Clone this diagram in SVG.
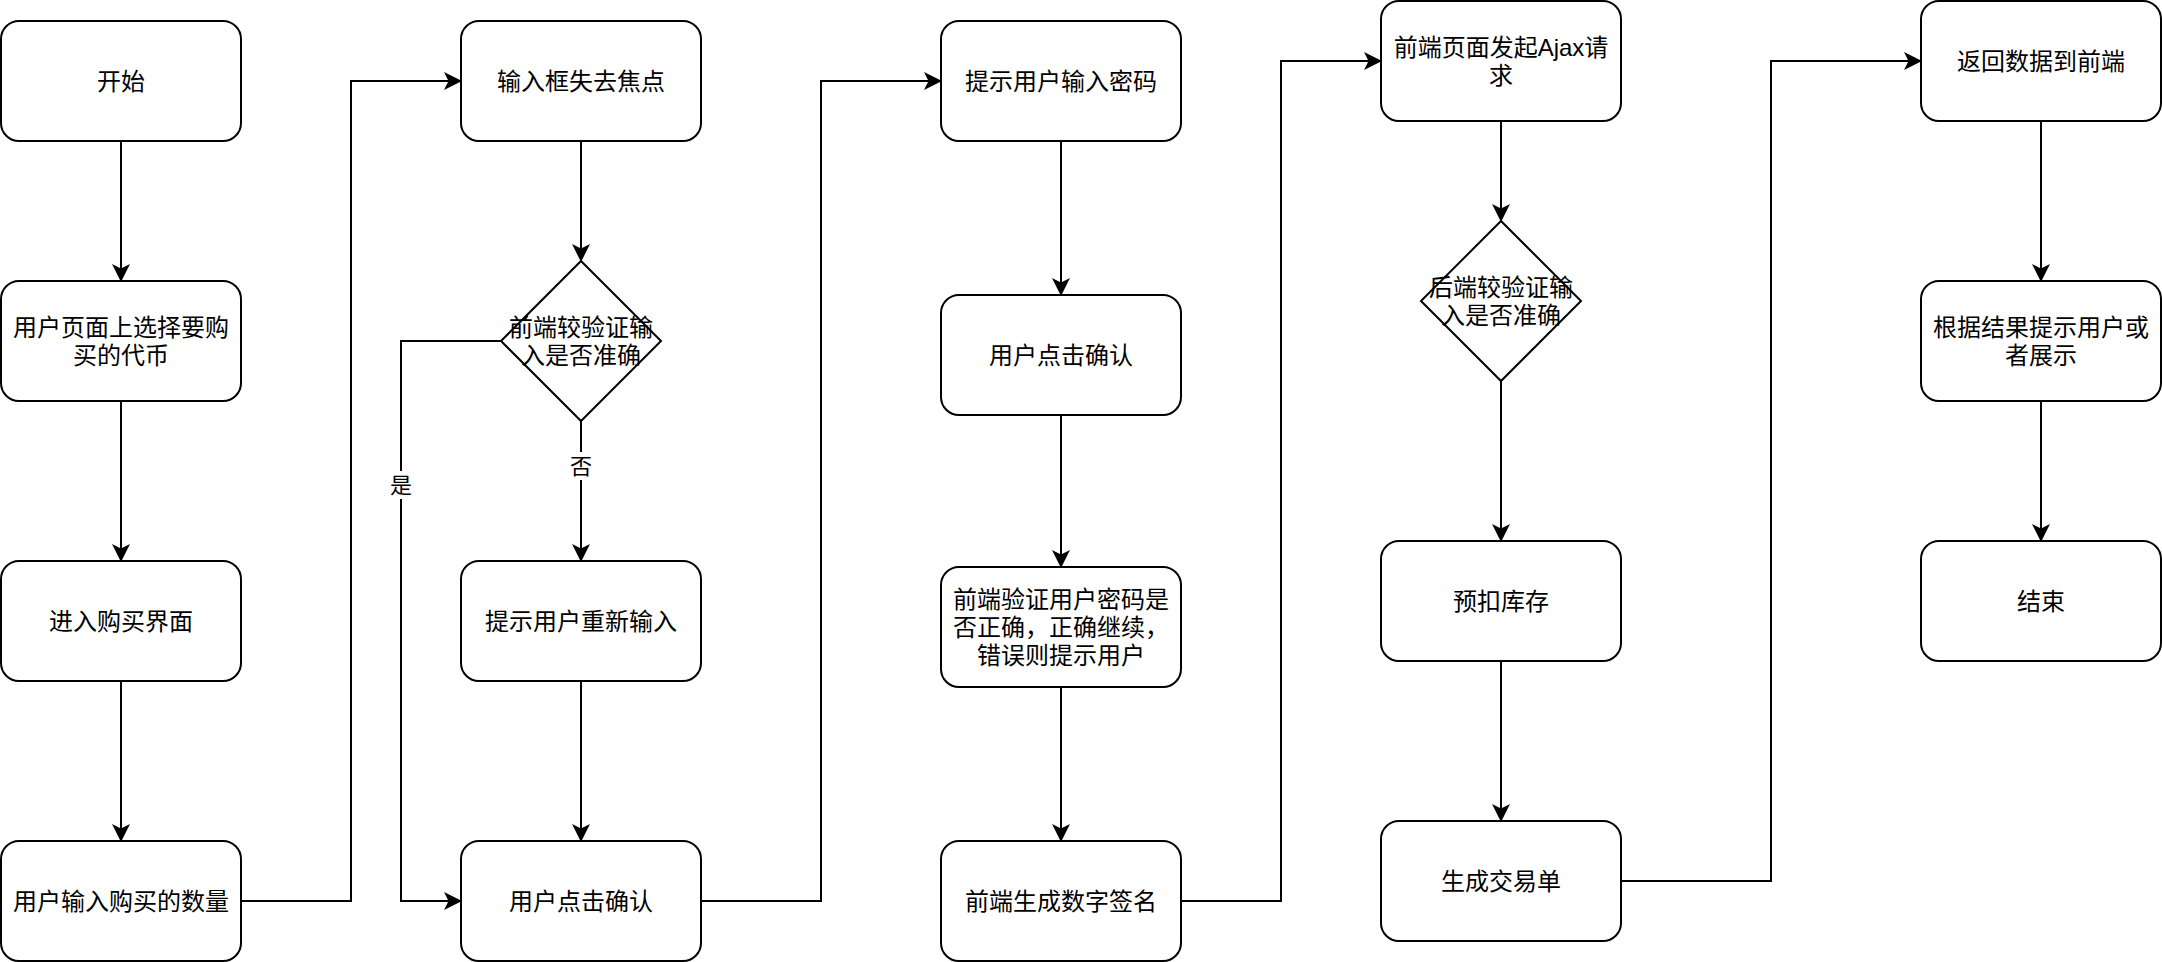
<svg xmlns="http://www.w3.org/2000/svg" width="2162" height="962" viewBox="0 0 2162 962">
<style>
.n{fill:#fff;stroke:#000;stroke-width:2}
.t{font-family:"Liberation Sans","Noto Sans CJK SC",sans-serif;font-size:24px;fill:#000;text-anchor:middle;dominant-baseline:central}
.l{font-family:"Liberation Sans","Noto Sans CJK SC",sans-serif;font-size:22px;fill:#000;text-anchor:middle;dominant-baseline:central}
.c{fill:none;stroke:#000;stroke-width:2;marker-end:url(#a)}
</style>
<defs>
<marker id="a" markerUnits="userSpaceOnUse" viewBox="0 0 18 18" refX="17" refY="9" markerWidth="18" markerHeight="18" orient="auto">
<path d="M0,0 L18,9 L0,18 L4.5,9 Z" fill="#000"/>
</marker>
</defs>
<rect width="2162" height="962" fill="#fff"/>
<g id="connectors">
<path class="c" d="M121,141 V281"/>
<path class="c" d="M121,401 V561"/>
<path class="c" d="M121,681 V841"/>
<path class="c" d="M241,901 H351 V81 H461"/>
<path class="c" d="M581,141 V261"/>
<path class="c" d="M581,421 V561"/>
<path class="c" d="M501,341 H401 V901 H461"/>
<path class="c" d="M581,681 V841"/>
<path class="c" d="M701,901 H821 V81 H941"/>
<path class="c" d="M1061,141 V295"/>
<path class="c" d="M1061,415 V567"/>
<path class="c" d="M1061,687 V841"/>
<path class="c" d="M1181,901 H1281 V61 H1381"/>
<path class="c" d="M1501,121 V221"/>
<path class="c" d="M1501,381 V541"/>
<path class="c" d="M1501,661 V821"/>
<path class="c" d="M1621,881 H1771 V61 H1921"/>
<path class="c" d="M2041,121 V281"/>
<path class="c" d="M2041,401 V541"/>
<rect x="568" y="452" width="26" height="28" fill="#fff"/>
<text class="l" x="581" y="466">否</text>
<rect x="388" y="471" width="26" height="28" fill="#fff"/>
<text class="l" x="401" y="485">是</text>
</g>
<g id="start"><rect class="n" x="1" y="21" width="240" height="120" rx="18"/><text class="t" x="121" y="81">开始</text></g>
<g id="select"><rect class="n" x="1" y="281" width="240" height="120" rx="18"/><text class="t" x="121" y="327">用户页面上选择要购</text><text class="t" x="121" y="355">买的代币</text></g>
<g id="enter"><rect class="n" x="1" y="561" width="240" height="120" rx="18"/><text class="t" x="121" y="621">进入购买界面</text></g>
<g id="qty"><rect class="n" x="1" y="841" width="240" height="120" rx="18"/><text class="t" x="121" y="901">用户输入购买的数量</text></g>
<g id="blur"><rect class="n" x="461" y="21" width="240" height="120" rx="18"/><text class="t" x="581" y="81">输入框失去焦点</text></g>
<g id="check1"><path class="n" d="M581,261 L661,341 L581,421 L501,341 Z"/><text class="t" x="581" y="327">前端较验证输</text><text class="t" x="581" y="355">入是否准确</text></g>
<g id="retry"><rect class="n" x="461" y="561" width="240" height="120" rx="18"/><text class="t" x="581" y="621">提示用户重新输入</text></g>
<g id="confirm1"><rect class="n" x="461" y="841" width="240" height="120" rx="18"/><text class="t" x="581" y="901">用户点击确认</text></g>
<g id="pwd"><rect class="n" x="941" y="21" width="240" height="120" rx="18"/><text class="t" x="1061" y="81">提示用户输入密码</text></g>
<g id="confirm2"><rect class="n" x="941" y="295" width="240" height="120" rx="18"/><text class="t" x="1061" y="355">用户点击确认</text></g>
<g id="verify"><rect class="n" x="941" y="567" width="240" height="120" rx="18"/><text class="t" x="1061" y="599">前端验证用户密码是</text><text class="t" x="1061" y="627">否正确，正确继续，</text><text class="t" x="1061" y="655">错误则提示用户</text></g>
<g id="sign"><rect class="n" x="941" y="841" width="240" height="120" rx="18"/><text class="t" x="1061" y="901">前端生成数字签名</text></g>
<g id="ajax"><rect class="n" x="1381" y="1" width="240" height="120" rx="18"/><text class="t" x="1501" y="47">前端页面发起Ajax请</text><text class="t" x="1501" y="75">求</text></g>
<g id="check2"><path class="n" d="M1501,221 L1581,301 L1501,381 L1421,301 Z"/><text class="t" x="1501" y="287">后端较验证输</text><text class="t" x="1501" y="315">入是否准确</text></g>
<g id="stock"><rect class="n" x="1381" y="541" width="240" height="120" rx="18"/><text class="t" x="1501" y="601">预扣库存</text></g>
<g id="order"><rect class="n" x="1381" y="821" width="240" height="120" rx="18"/><text class="t" x="1501" y="881">生成交易单</text></g>
<g id="return"><rect class="n" x="1921" y="1" width="240" height="120" rx="18"/><text class="t" x="2041" y="61">返回数据到前端</text></g>
<g id="show"><rect class="n" x="1921" y="281" width="240" height="120" rx="18"/><text class="t" x="2041" y="327">根据结果提示用户或</text><text class="t" x="2041" y="355">者展示</text></g>
<g id="end"><rect class="n" x="1921" y="541" width="240" height="120" rx="18"/><text class="t" x="2041" y="601">结束</text></g>
</svg>
